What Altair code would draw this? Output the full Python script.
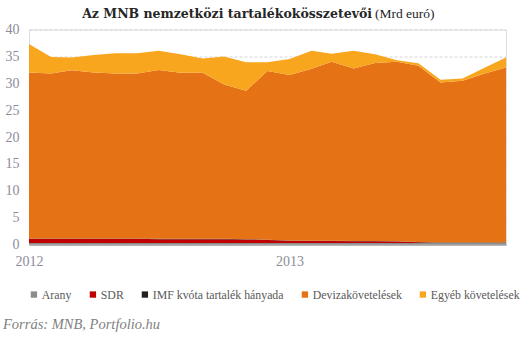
import altair as alt
import pandas as pd

months = ["2012-01", "2012-02", "2012-03", "2012-04", "2012-05", "2012-06",
          "2012-07", "2012-08", "2012-09", "2012-10", "2012-11", "2012-12",
          "2013-01", "2013-02", "2013-03", "2013-04", "2013-05", "2013-06",
          "2013-07", "2013-08", "2013-09", "2013-10", "2013-11"]

arany = [0.3, 0.3, 0.3, 0.3, 0.3, 0.3, 0.3, 0.3, 0.3, 0.3, 0.3, 0.3,
         0.3, 0.3, 0.3, 0.3, 0.3, 0.3, 0.3, 0.3, 0.3, 0.3, 0.3]
sdr = [0.75, 0.75, 0.75, 0.75, 0.75, 0.75, 0.7, 0.7, 0.7, 0.7, 0.65, 0.55,
       0.4, 0.35, 0.35, 0.3, 0.3, 0.25, 0.1, 0.0, 0.0, 0.0, 0.0]
imf = [0.05, 0.05, 0.05, 0.05, 0.05, 0.05, 0.05, 0.05, 0.05, 0.05, 0.05, 0.05,
       0.05, 0.05, 0.05, 0.05, 0.05, 0.05, 0.05, 0.05, 0.05, 0.05, 0.05]
deviza = [30.9, 30.7, 31.3, 30.9, 30.7, 30.7, 31.4, 30.9, 30.9, 28.7, 27.6, 31.4,
          30.8, 32.0, 33.3, 32.1, 33.1, 33.4, 32.8, 29.8, 30.1, 31.4, 32.6]
egyeb = [5.3, 3.1, 2.4, 3.25, 3.8, 3.8, 3.6, 3.45, 2.65, 5.25, 5.3, 1.6,
         2.95, 3.35, 1.5, 3.3, 1.65, 0.3, 0.45, 0.5, 0.45, 1.1, 1.85]

series = ["Arany", "SDR", "IMF kvóta tartalék hányada", "Devizakövetelések", "Egyéb követelések"]
colors = ["#8c8c8c", "#c00000", "#231f20", "#e57214", "#f9a61f"]
values = [arany, sdr, imf, deviza, egyeb]

rows = []
for si, (name, vals) in enumerate(zip(series, values)):
    for m, v in zip(months, vals):
        rows.append({"date": m + "-01", "series": name, "value": v, "order": si})
df = pd.DataFrame(rows)

W, H = 477, 215
FONT = "Liberation Serif"

area = alt.Chart(df).mark_area(opacity=1, interpolate="linear").encode(
    x=alt.X("date:T", title=None,
            scale=alt.Scale(domain=["2012-01-01", "2013-11-01"], nice=False),
            axis=alt.Axis(values=["2012-01-01", "2013-01-01"], format="%Y",
                          labelAlign="center", ticks=False, grid=False,
                          domainColor="#a6a6a6", domainWidth=1.5,
                          labelFont=FONT, labelFontSize=14, labelColor="#8c8c9a",
                          labelPadding=10)),
    y=alt.Y("value:Q", stack="zero", title=None,
            scale=alt.Scale(domain=[0, 40], nice=False),
            axis=alt.Axis(values=[0, 5, 10, 15, 20, 25, 30, 35, 40], ticks=False,
                          domain=False, grid=True, gridColor="#d4d4d4", gridDash=[3, 2],
                          labelFont=FONT, labelFontSize=14, labelColor="#8c8c9a",
                          labelPadding=10)),
    color=alt.Color("series:N", sort=series,
                    scale=alt.Scale(domain=series, range=colors),
                    legend=alt.Legend(title=None, orient="none", direction="horizontal",
                                      legendX=-1, legendY=259,
                                      symbolType="square", symbolSize=40,
                                      symbolStrokeWidth=0,
                                      labelFont=FONT, labelFontSize=11.8,
                                      labelColor="#595959", columnPadding=15,
                                      symbolOffset=0, labelOffset=2)),
    order=alt.Order("order:Q", sort="ascending"),
)

title_bold = alt.Chart(pd.DataFrame({"t": ["Az MNB nemzetközi tartalékokösszetevői"]})).mark_text(
    align="right", baseline="alphabetic", font="DejaVu Serif", fontSize=12.5, fontWeight="bold",
    color="#262626").encode(x=alt.value(343), y=alt.value(-12), text="t:N")

title_norm = alt.Chart(pd.DataFrame({"t": ["(Mrd euró)"]})).mark_text(
    align="left", baseline="alphabetic", font=FONT, fontSize=13.5,
    color="#262626").encode(x=alt.value(346), y=alt.value(-12), text="t:N")

source = alt.Chart(pd.DataFrame({"t": ["Forrás: MNB, Portfolio.hu"]})).mark_text(
    align="left", baseline="alphabetic", font=FONT, fontSize=14.5, fontStyle="italic",
    color="#7f7f7f").encode(x=alt.value(-26), y=alt.value(299), text="t:N")

chart = alt.layer(area, title_bold, title_norm, source).properties(
    width=W, height=H,
    autosize=alt.AutoSizeParams(type="none"),
    padding={"left": 29, "top": 29.5, "right": 23, "bottom": 95.5},
).configure_view(stroke=None).configure(background="white")

chart.save("out.html", embed_options={"renderer": "svg", "actions": False})
